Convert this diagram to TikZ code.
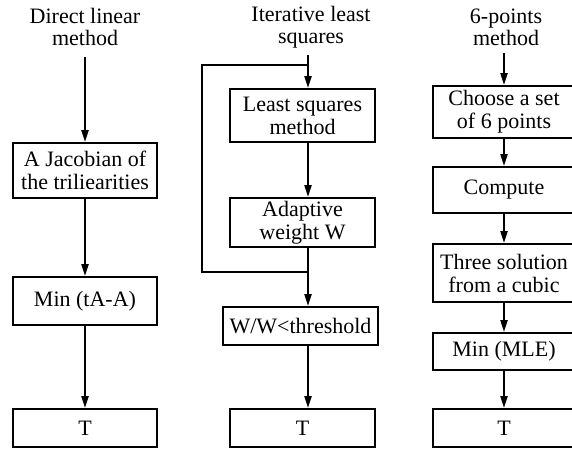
\documentclass[tikz,border=0pt]{standalone}
\usepackage{fontspec}
\setmainfont{Liberation Serif}
\usetikzlibrary{arrows.meta}
\begin{document}
\begin{tikzpicture}[x=1pt,y=-1pt,
  box/.style={draw, line width=1.9pt, rectangle, inner sep=0pt, align=center,
    font=\fontsize{22}{23}\selectfont},
  ttl/.style={inner sep=0pt, align=center, font=\fontsize{22}{22}\selectfont},
  flow/.style={line width=2pt, -{Triangle[length=12pt,width=7pt]}},
  seg/.style={line width=2pt}]
\useasboundingbox (0,0) rectangle (572,453);
\begin{scope}
\clip (0,0) rectangle (572,453);
% column axes
\coordinate (c1) at (85,0);
\coordinate (c2) at (308,0);
\coordinate (c3) at (504,0);
% titles
\node[ttl] (t1) at (85,27) {Direct linear\\method};
\node[ttl] (t2) at (311,27) {Iterative least\\squares};
\node[ttl] (t3) at (506,27) {6-points\\method};
% column 1
\node[box, minimum width=144pt, minimum height=55pt] (j) at (85,170.5) {A Jacobian of\\the triliearities};
\node[box, minimum width=144pt, minimum height=48pt] (m) at (85,301) {Min (tA-A)};
\node[box, minimum width=144pt, minimum height=38pt] (ta) at (85,428) {T};
% column 2
\node[box, minimum width=145pt, minimum height=53pt] (l) at (302.5,115.5) {Least squares\\method};
\node[box, minimum width=145pt, minimum height=49pt] (a) at (302.5,222.5) {Adaptive\\weight W};
\node[box, minimum width=155pt, minimum height=38pt] (w) at (300.5,326) {W/W<threshold};
\node[box, minimum width=145pt, minimum height=38pt] (tb) at (302.5,428) {T};
% column 3
\node[box, minimum width=142pt, minimum height=52pt] (ch) at (504,112) {Choose a set\\of 6 points};
\node[box, minimum width=142pt, minimum height=46pt] (cp) at (504,190) {Compute};
\node[box, minimum width=142pt, minimum height=58pt] (th) at (504,273) {Three solution\\from a cubic};
\node[box, minimum width=142pt, minimum height=37pt] (ml) at (504,351.5) {Min (MLE)};
\node[box, minimum width=142pt, minimum height=38pt] (tc) at (504,428) {T};
% coordinates
\coordinate (s1) at (85,57);
\coordinate (s2) at (308,55);
\coordinate (s3) at (504,53);
\coordinate (lpA) at (308,272);
\coordinate (lpB) at (202,272);
\coordinate (lpC) at (202,65);
\coordinate (lpD) at (308,65);
% connectors column 1
\draw[flow] (s1) -- (j.north -| c1);
\draw[flow] (j.south -| c1) -- (m.north -| c1);
\draw[flow] (m.south -| c1) -- (ta.north -| c1);
% column 2
\draw[flow] (s2) -- (l.north -| c2);
\draw[flow] (l.south -| c2) -- (a.north -| c2);
\draw[flow] (a.south -| c2) -- (w.north -| c2);
\draw[seg] (lpA) -- (lpB) -- (lpC) -- (lpD);
\draw[flow] (w.south -| c2) -- (tb.north -| c2);
% column 3
\draw[flow] (s3) -- (ch.north -| c3);
\draw[flow] (ch.south -| c3) -- (cp.north -| c3);
\draw[flow] (cp.south -| c3) -- (th.north -| c3);
\draw[flow] (th.south -| c3) -- (ml.north -| c3);
\draw[flow] (ml.south -| c3) -- (tc.north -| c3);
\end{scope}
\end{tikzpicture}
\end{document}
